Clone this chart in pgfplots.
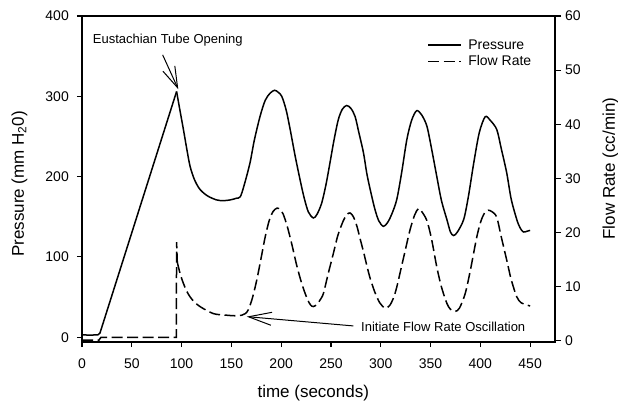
\documentclass[border=0pt]{standalone}
\usepackage{fontspec}
\setmainfont{Liberation Sans}
\usepackage{pgfplots}
\usepackage{pgfplotstable}
\pgfplotsset{compat=1.18}
\usetikzlibrary{arrows.meta}

% Pressure: baseline, then the linear ramp up to the tube opening
\pgfplotstableread{
t p
0 3
8 2.5
16 3
18 5
95 306
}\pressureramp

% Pressure after the tube opens: decay and forced oscillation
\pgfplotstableread{
t p
95 306
98 285
101.8 259
105 236
108.5 213
113 196
118.5 184
126 176
135 171
142 170
149 171
155 173
159 175
163 190
168.7 217
173 245
178.8 275
184 295
189 304
193.5 307.5
197 305
200.6 300
205 283
209 259
214 226
219 196
223 174
227.3 156
232.3 148.5
236 153
240.7 167
245 190
249 217
253 245
257.4 271
261.5 284
265.8 288.5
270 285
274.2 275
278 255
282.6 230
286 204
289.4 184
294 160
298 145
302.7 138
307 143
311 153
316.1 171.5
321 205
326.2 246
331 270
336 282
341 277
346.3 263
351 235
356.3 200
361 170
366.4 146.6
370 131
373.2 126.6
377 131
383.3 146.6
388 175
393.4 217
399 255
404.9 274.5
410 270
416.5 258.6
421 235
426.5 204.7
431 172
436.6 146.6
440 136
443.3 131
447 132
450 133
}\pressureosc

% Flow rate: baseline and the spike at the tube opening
\pgfplotstableread{
t f
0 0.1
17 0.1
19 0.6
94.7 0.6
95 18.2
95.7 14.5
}\flowbase

% Flow rate: decay and oscillation
\pgfplotstableread{
t f
95.7 14.5
98.5 12.4
101.8 10.6
105 9.2
108.5 8.1
113 7.1
118.5 6.3
125 5.6
131.9 5.0
138 4.8
145.3 4.7
153 4.6
160.4 4.7
164 5.0
167 5.7
171 7.8
175.5 11.2
180 15.4
184 19.2
188 22.2
192 23.9
196 24.5
199 24.2
202 23.4
206 21.2
210.6 17.9
215.5 14
220.6 10.6
226 7.8
229.5 6.6
232.3 6.3
236 6.7
239 7.5
242.4 8.7
247 12.2
252.4 16.1
257 19.5
262.5 22.2
266 23.3
269.2 23.6
272.5 22.9
276 21.2
279.2 18.9
283 16.2
286 13.9
289.4 11.5
294 9.0
299 7.0
304.4 6.0
309 6.5
313 8.0
316.1 9.9
320 13
325 17
329.3 20.4
334 23.2
337.8 24.4
341 23.9
346.3 22.2
351 18.8
356.3 13.6
361 9.9
366.4 6.9
370 5.8
374.7 5.4
379 6.0
384.8 8.7
390 13
396.5 19.2
401 22.3
405 23.8
408.1 24.1
412 23.8
416.5 22.8
421 19.2
426.5 14.9
431 11.3
436.6 8.1
441 7.0
446.7 6.6
450 6.4
}\flowosc

\pgfplotsset{
  every tick label/.append style={font=\fontsize{14bp}{16bp}\selectfont},
  /pgf/number format/assume math mode=true,
  every axis label/.append style={font=\fontsize{17bp}{20bp}\selectfont},
}

\tikzset{
  pres/.style={black, line width=1.5bp},
  flow/.style={black, line width=1.5bp, dash pattern=on 11bp off 4.5bp},
  note/.style={anchor=west, inner sep=0pt, font=\fontsize{13bp}{15bp}\selectfont},
}

\begin{document}
\begin{tikzpicture}
\begin{axis}[
  scale only axis,
  width=473bp, height=326bp,
  xmin=0, xmax=475,
  ymin=-6, ymax=400,
  xtick={0,50,...,450},
  ytick={0,100,...,400},
  xtick pos=bottom, ytick pos=left,
  tick align=outside,
  major tick length=5bp,
  axis line style={line width=1.3bp},
  every tick/.style={black, line width=1.2bp},
  xticklabel style={anchor=north, inner sep=0pt, yshift=-12bp},
  yticklabel style={anchor=east, inner sep=0pt, xshift=-8bp},
  xlabel={time (seconds)},
  ylabel={Pressure (mm H\textsubscript{2}0)},
  xlabel style={at={(axis description cs:0.489,-0.157)}, anchor=center},
  ylabel style={at={(axis description cs:-0.1321,0.485)}, anchor=center},
  clip=false,
  legend style={draw=none, fill=none, at={(rel axis cs:0.7295,0.885)},
    anchor=west, inner sep=0pt, row sep=2bp, column sep=5bp,
    font=\fontsize{14bp}{16bp}\selectfont,
    nodes={inner sep=1.5bp}},
  legend cell align=left,
  legend image code/.code={\draw[#1] (0bp,0bp) -- (33bp,0bp);},
]
\coordinate (o) at (rel axis cs:0,0);
\addplot[pres, forget plot] table[x=t, y=p] {\pressureramp};
\addplot[pres, smooth, tension=0.5, forget plot] table[x=t, y=p] {\pressureosc};
\addlegendimage{pres}
\addlegendentry{Pressure}
\addlegendimage{flow}
\addlegendentry{Flow Rate}

\node[note] at (axis cs:10.7,370.2) {Eustachian Tube Opening};
\draw[line width=1bp, -{Straight Barb[length=21bp, width=13bp, line width=1bp]}]
  (axis cs:81,351.6) -- (axis cs:96.7,308.8);
\end{axis}

\begin{axis}[
  scale only axis,
  width=473bp, height=326bp,
  xmin=0, xmax=475,
  ymin=-0.25, ymax=60,
  axis y line*=right,
  axis x line=none,
  ytick={0,10,...,60},
  tick align=outside,
  major tick length=6bp,
  axis line style={line width=1.3bp},
  every tick/.style={black, line width=1.2bp},
  yticklabel style={anchor=west, inner sep=0pt, xshift=4bp},
  ylabel={Flow Rate (cc/min)},
  ylabel style={at={(axis description cs:1.117,0.532)}, anchor=center, rotate=0},
  clip=false,
]
\addplot[flow] table[x=t, y=f] {\flowbase};
\addplot[flow, smooth, tension=0.5] table[x=t, y=f] {\flowosc};

\draw[line width=1bp, -{Straight Barb[length=23bp, width=13bp, line width=1bp]}]
  (axis cs:272.5,2.72) -- (axis cs:165.4,4.44);
\node[note] at (axis cs:280.2,2.53) {Initiate Flow Rate Oscillation};
\end{axis}

\pgfresetboundingbox
\path ([shift={(-82bp,-66bp)}]o) rectangle ([shift={(536bp,342bp)}]o);
\end{tikzpicture}
\end{document}
